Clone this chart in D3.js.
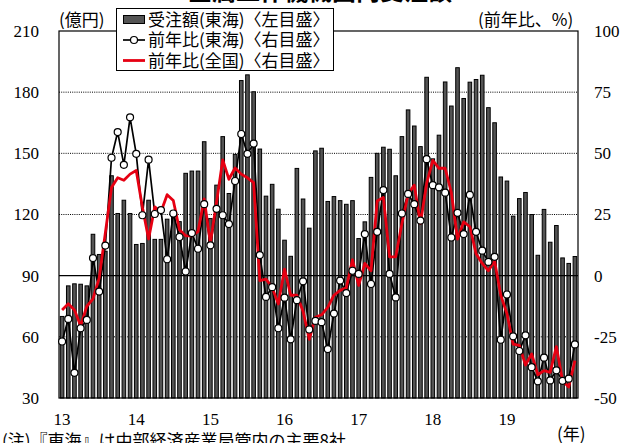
<!DOCTYPE html>
<html>
<head>
<meta charset="utf-8">
<script src="https://cdn.jsdelivr.net/npm/d3@7"></script>
<style>
  html, body { margin: 0; padding: 0; background: #fff; }
  svg { display: block; }
</style>
</head>
<body>
<svg id="chart" width="621" height="443"></svg>
<script>
// 金属工作機械国内受注額 — monthly, 2013/1 to 2019/12
const yearLabels = ["13", "14", "15", "16", "17", "18", "19"];

// 受注額(東海), 億円 — left scale
const orders = [
  70, 85, 86, 85.8, 85, 110.3, 100.4, 102, 139, 120.5, 127, 120.5,
  105.3, 105.8, 127, 107.8, 107.8, 117.7, 121, 116.5, 140.2, 141.3, 141.3, 155.7,
  118, 134.4, 158.2, 130.3, 149.5, 185.7, 188.5, 180.2, 152.1, 129, 134.8, 122.6,
  107.4, 99.5, 142.6, 127.6, 113.3, 151.2, 152.5, 126.4, 128.8, 126.8, 125, 126.8,
  108.2, 116.4, 138.2, 150, 153, 152, 139, 158.2, 171.3, 163.4, 153.3, 187.3,
  147.3, 158.9, 185, 173.2, 192, 176.9, 184.9, 186.2, 188.3, 172.4, 165, 138.4,
  136.4, 119.2, 127.8, 130.8, 120, 100, 122.5, 106.4, 114.6, 98.7, 96, 99.4
];

// 前年比(東海), % — right scale
const yoyTokai = [
  -26.9, -17.7, -39.7, -21.5, -18.1, 7.2, -6.5, 12.3, 48.2, 58.7, 45.3, 64.7,
  49.8, 24.7, 47.4, 25.2, 26.8, 6.7, 25.4, 15.8, 1.7, 17.4, 11, 29.2,
  12.4, 27.3, 24.7, 21.1, 38.7, 57.9, 49.8, 54, 8.4, -8.7, -4.7, -21.5,
  -9, -26, -10, -2.3, -22, -18.5, -19, -30, -15.5, -2, -7.1, 2,
  0.7, 17, -3.4, 17.9, 35, 0.7, -8.9, 25.4, 33.4, 29.2, 22.5, 47.6,
  37, 36.1, 33.9, 15.6, 25.7, 17, 33, 17.9, 10.2, 5.6, 7.7, -26.2,
  -7.7, -24.8, -30.8, -24.4, -37.4, -43.2, -33.5, -42.8, -38.7, -43, -42.1, -28.1
];

// 前年比(全国), % — right scale
const yoyNational = [
  -14, -11.5, -14, -20.5, -12.5, -9.5, -1, 17.5, 36, 40, 39, 41.5,
  43, 28, 15, 28.1, 26, 33.1, 30.7, 18.8, 16.3, 16.3, 18, 31.4,
  13.3, 30, 47.3, 39.4, 44, 41.5, 40, 38, -2, -1.4, -4.8, -11.6,
  2.7, -8, -8, -14.5, -26, -17, -16, -13, -8, -6, -5, 6.5,
  -4, 5, 2, 30.5, 32, 7.7, 7.7, 21.3, 33.3, 37, 21.3, 37.7,
  47.1, 43.9, 43.9, 34, 15, 22, 20, 9, 5, 2, 6, -8,
  -15.5, -28, -28.5, -36.5, -32, -40.5, -38.8, -39.5, -29, -43, -45.5, -34.7
];

const leftTicks = [30, 60, 90, 120, 150, 180, 210];
const rightTicks = [-50, -25, 0, 25, 50, 75, 100];
const dottedGrid = [60, 120, 150, 180];

const legendItems = [
  { key: "bar", label: "受注額(東海)〈左目盛〉" },
  { key: "tokai", label: "前年比(東海)〈右目盛〉" },
  { key: "national", label: "前年比(全国)〈右目盛〉" }
];

const serif = "'Liberation Serif', 'Times New Roman', serif";
const jp = "'Noto Sans CJK JP', 'Noto Sans', sans-serif";
const barFill = "#545454";
const red = "#e60012";

const svg = d3.select("#chart");
const plot = { left: 59, right: 578, top: 31, bottom: 398 };

// one band per month
const months = yearLabels.flatMap(y => d3.range(1, 13).map(mo => y + "-" + mo));
const x = d3.scaleBand().domain(months).range([plot.left, plot.right])
  .paddingInner(0.42).paddingOuter(0.21);
const cx = i => x(months[i]) + x.bandwidth() / 2;

const yL = d3.scaleLinear().domain([30, 210]).range([plot.bottom, plot.top]);
const yR = d3.scaleLinear().domain([-50, 100]).range([plot.bottom, plot.top]);

// title (sits mostly above the canvas)
svg.append("text")
  .attr("x", 320).attr("y", 0)
  .attr("text-anchor", "middle")
  .attr("font-family", jp).attr("font-size", 24).attr("font-weight", "bold")
  .text("金属工作機械国内受注額");

// gridlines
svg.append("g").selectAll("line").data(dottedGrid).join("line")
  .attr("x1", plot.left).attr("x2", plot.right)
  .attr("y1", d => yL(d)).attr("y2", d => yL(d))
  .attr("stroke", "#000").attr("stroke-width", 1)
  .attr("stroke-dasharray", "1,1.2");

// bars
svg.append("g").selectAll("rect").data(orders).join("rect")
  .attr("x", (d, i) => x(months[i]))
  .attr("width", x.bandwidth())
  .attr("y", d => yL(d))
  .attr("height", d => yL(30) - yL(d))
  .attr("fill", barFill)
  .attr("stroke", "#000").attr("stroke-width", 1);

// zero line for the right scale
svg.append("line")
  .attr("x1", plot.left).attr("x2", plot.right)
  .attr("y1", yR(0)).attr("y2", yR(0))
  .attr("stroke", "#000").attr("stroke-width", 1.1);

// frame
svg.append("rect")
  .attr("x", plot.left).attr("y", plot.top)
  .attr("width", plot.right - plot.left).attr("height", plot.bottom - plot.top)
  .attr("fill", "none").attr("stroke", "#000").attr("stroke-width", 1.2);

// lines
const line = d3.line().x((d, i) => cx(i)).y(d => yR(d));

svg.append("path").datum(yoyTokai)
  .attr("d", line).attr("fill", "none")
  .attr("stroke", "#000").attr("stroke-width", 1.7).attr("stroke-linejoin", "round");

svg.append("path").datum(yoyNational)
  .attr("d", line).attr("fill", "none")
  .attr("stroke", red).attr("stroke-width", 2.8).attr("stroke-linejoin", "round");

svg.append("g").selectAll("circle").data(yoyTokai).join("circle")
  .attr("cx", (d, i) => cx(i)).attr("cy", d => yR(d)).attr("r", 3.5)
  .attr("fill", "#fff").attr("stroke", "#000").attr("stroke-width", 1.2);

// axes
const styleAxis = g => {
  g.select(".domain").remove();
  g.selectAll("text").attr("font-family", serif).attr("font-size", 17).attr("fill", "#000");
};

svg.append("g").attr("transform", `translate(${plot.left},0)`)
  .call(d3.axisLeft(yL).tickValues(leftTicks).tickSize(0).tickPadding(20).tickFormat(d => String(d)))
  .call(styleAxis);

svg.append("g").attr("transform", `translate(${plot.right},0)`)
  .call(d3.axisRight(yR).tickValues(rightTicks).tickSize(0).tickPadding(16).tickFormat(d => String(d)))
  .call(styleAxis);

const januaries = yearLabels.map(y => y + "-1");
svg.append("g").attr("transform", `translate(0,${plot.bottom})`)
  .call(d3.axisBottom(x).tickValues(januaries).tickSize(0).tickPadding(15)
    .tickFormat(d => d.split("-")[0]))
  .call(styleAxis);

// unit labels
const unit = (tx, ty, t, anchor) => svg.append("text")
  .attr("x", tx).attr("y", ty).attr("text-anchor", anchor || "start")
  .attr("font-family", jp).attr("font-size", 17).attr("fill", "#000").text(t);

unit(59, 26, "(億円)");
unit(478, 26, "(前年比、%)");
unit(557, 440, "(年)");
unit(2, 447, "(注)『東海』は中部経済産業局管内の主要8社");

// legend
const lg = svg.append("g");
lg.append("rect")
  .attr("x", 116.5).attr("y", 8.5).attr("width", 217).attr("height", 62)
  .attr("fill", "#fff").attr("stroke", "#000").attr("stroke-width", 1);

legendItems.forEach((item, i) => {
  const cy = 19.5 + i * 20.5;
  if (item.key === "bar") {
    lg.append("rect").attr("x", 123.5).attr("y", cy - 4).attr("width", 21).attr("height", 8)
      .attr("fill", barFill).attr("stroke", "#000").attr("stroke-width", 1);
  } else if (item.key === "tokai") {
    lg.append("line").attr("x1", 123).attr("x2", 145).attr("y1", cy).attr("y2", cy)
      .attr("stroke", "#000").attr("stroke-width", 1.7);
    lg.append("circle").attr("cx", 134).attr("cy", cy).attr("r", 3.5)
      .attr("fill", "#fff").attr("stroke", "#000").attr("stroke-width", 1.2);
  } else {
    lg.append("line").attr("x1", 123).attr("x2", 145).attr("y1", cy).attr("y2", cy)
      .attr("stroke", red).attr("stroke-width", 2.8);
  }
  lg.append("text").attr("x", 148).attr("y", cy + 6)
    .attr("font-family", jp).attr("font-size", 17).attr("fill", "#000")
    .text(item.label);
});
</script>
</body>
</html>
